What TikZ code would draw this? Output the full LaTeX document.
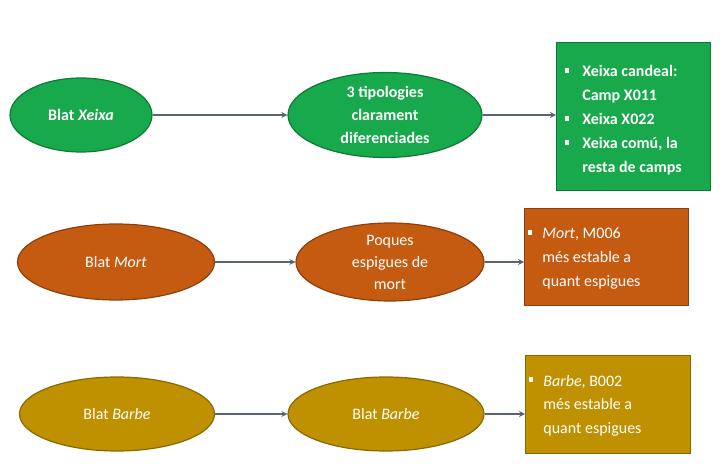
\documentclass[tikz,border=0pt]{standalone}
\usepackage{fontspec}
\setmainfont{Carlito}
\usetikzlibrary{shapes.geometric,arrows.meta}
\definecolor{cgreen}{HTML}{17A94B}
\definecolor{cgreenD}{HTML}{0E7A35}
\definecolor{corange}{HTML}{C55A11}
\definecolor{corangeD}{HTML}{8E3F0B}
\definecolor{cgold}{HTML}{BF9000}
\definecolor{cgoldD}{HTML}{8A6800}
\definecolor{carrow}{HTML}{5A6470}
\tikzset{
  ell/.style={ellipse, draw=#1D, line width=1.2pt, fill=#1, text=white, align=center,
    font=\fontsize{16}{22}\selectfont, inner sep=0pt},
  box/.style={rectangle, draw=#1D, line width=1pt, fill=#1, text=white, anchor=north west,
    inner sep=0pt},
  boxtext/.style={anchor=north west, text=white, inner sep=0pt, font=\fontsize{16}{24}\selectfont},
  conn/.style={draw=carrow, line width=1.8pt, -{Stealth[length=6pt,width=6pt]}},
}
\newcommand{\sqb}{\rule[0.28em]{0.26em}{0.26em}}
\begin{document}
\begin{tikzpicture}[x=1pt,y=-1pt]
\useasboundingbox (0,0) rectangle (721,465);
% Row 1
\node[ell=cgreen, minimum width=142, minimum height=74, font=\fontsize{16}{22}\selectfont\bfseries] (a1) at (81,115) {Blat \textit{Xeixa}};
\node[ell=cgreen, minimum width=194, minimum height=85, font=\fontsize{16}{23}\selectfont\bfseries] (a2) at (385,115) {3 tipologies\\clarament\\diferenciades};
\node[box=cgreen, minimum width=154, minimum height=148] (a3) at (556,42) {};
\node[boxtext, font=\fontsize{16}{24}\selectfont\bfseries] (a3t) at (565,60) {%
\begin{tabular}{@{}l@{\hspace{13pt}}l@{}}
\sqb & Xeixa candeal:\\
 & Camp X011\\
\sqb & Xeixa X022\\
\sqb & Xeixa comú, la\\
 & resta de camps
\end{tabular}};
\draw[conn] (a1) -- (a2);
\draw[conn] (a2.east) -- (a2.east -| a3.west);
% Row 2
\node[ell=corange, minimum width=197, minimum height=76] (b1) at (116,262) {Blat \textit{Mort}};
\node[ell=corange, minimum width=188, minimum height=78] (b2) at (390,262) {Poques\\espigues de\\mort};
\node[box=corange, minimum width=164, minimum height=97] (b3) at (524,208) {};
\node[boxtext] (b3t) at (528,222) {%
\begin{tabular}{@{}l@{\hspace{10pt}}l@{}}
\sqb & \textit{Mort}, M006\\
 & més estable a\\
 & quant espigues
\end{tabular}};
\draw[conn] (b1) -- (b2);
\draw[conn] (b2.east) -- (b2.east -| b3.west);
% Row 3
\node[ell=cgold, minimum width=195, minimum height=74] (c1) at (117,414) {Blat \textit{Barbe}};
\node[ell=cgold, minimum width=196, minimum height=74] (c2) at (386,414) {Blat \textit{Barbe}};
\node[box=cgold, minimum width=165, minimum height=98] (c3) at (525,355) {};
\node[boxtext] (c3t) at (529,369) {%
\begin{tabular}{@{}l@{\hspace{10pt}}l@{}}
\sqb & \textit{Barbe}, B002\\
 & més estable a\\
 & quant espigues
\end{tabular}};
\draw[conn] (c1) -- (c2);
\draw[conn] (c2.east) -- (c2.east -| c3.west);
\end{tikzpicture}
\end{document}
